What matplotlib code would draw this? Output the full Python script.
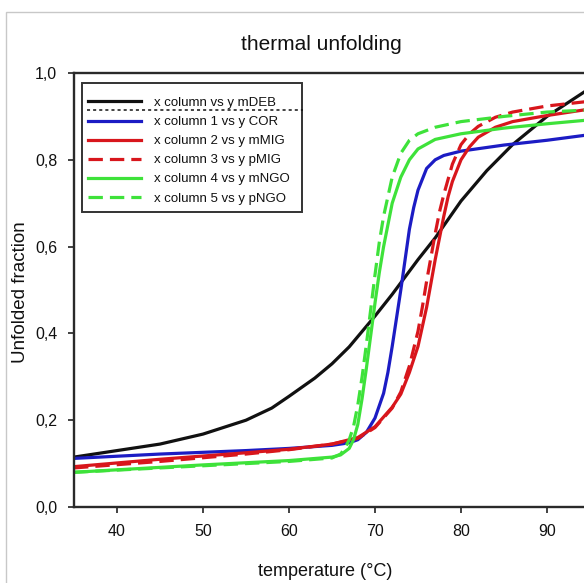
import matplotlib.pyplot as plt
from matplotlib.patches import Rectangle

plt.rcParams['font.family'] = ['Liberation Sans', 'DejaVu Sans']

# temperatures (°C) and unfolded fractions
t_deb = [35, 40, 45, 50, 55, 58, 60, 63, 65, 67, 70, 72, 75, 77, 80, 83, 86, 90, 95]
y_deb = [0.115, 0.13, 0.145, 0.168, 0.2, 0.228, 0.255, 0.297, 0.33, 0.369, 0.44, 0.49, 0.57, 0.62, 0.705, 0.775, 0.835, 0.9, 0.965]

t_cor = [35, 45, 55, 60, 65, 67, 68, 69, 70, 71, 71.5, 72, 72.5, 73, 73.5, 74, 74.5, 75, 76, 77, 78, 80, 85, 90, 95]
y_cor = [0.112, 0.122, 0.13, 0.135, 0.142, 0.148, 0.155, 0.172, 0.205, 0.262, 0.31, 0.37, 0.435, 0.5, 0.57, 0.64, 0.69, 0.73, 0.78, 0.8, 0.81, 0.82, 0.834, 0.845, 0.858]

t_mmig = [35, 45, 55, 60, 65, 68, 70, 72, 73, 74, 75, 76, 76.5, 77, 77.5, 78, 78.5, 79, 80, 81, 82, 84, 86, 90, 95]
y_mmig = [0.093, 0.11, 0.125, 0.133, 0.145, 0.16, 0.185, 0.23, 0.26, 0.31, 0.37, 0.46, 0.515, 0.57, 0.62, 0.67, 0.715, 0.75, 0.8, 0.83, 0.852, 0.875, 0.888, 0.902, 0.917]

t_pmig = [35, 45, 55, 60, 65, 68, 70, 72, 73, 74, 75, 75.5, 76, 76.5, 77, 77.5, 78, 79, 80, 81, 82, 84, 86, 90, 95]
y_pmig = [0.09, 0.105, 0.122, 0.132, 0.145, 0.158, 0.183, 0.228, 0.265, 0.325, 0.405, 0.46, 0.52, 0.575, 0.63, 0.68, 0.72, 0.79, 0.835, 0.86, 0.877, 0.898, 0.91, 0.924, 0.935]

t_mngo = [35, 50, 60, 65, 66, 67, 67.5, 68, 68.5, 69, 69.5, 70, 70.5, 71, 72, 73, 74, 75, 77, 80, 85, 90, 95]
y_mngo = [0.08, 0.097, 0.107, 0.115, 0.12, 0.135, 0.155, 0.19, 0.25, 0.32, 0.395, 0.47, 0.54, 0.6, 0.7, 0.76, 0.8, 0.825, 0.847, 0.86, 0.873, 0.883, 0.892]

t_pngo = [35, 50, 60, 65, 66, 66.5, 67, 67.5, 68, 68.5, 69, 69.5, 70, 70.5, 71, 72, 73, 74, 75, 77, 80, 85, 90, 95]
y_pngo = [0.08, 0.095, 0.105, 0.113, 0.122, 0.135, 0.155, 0.185, 0.235, 0.3, 0.375, 0.455, 0.535, 0.61, 0.67, 0.76, 0.815, 0.845, 0.86, 0.875, 0.888, 0.9, 0.91, 0.915]

labels = ['x column vs y mDEB', 'x column 1 vs y COR', 'x column 2 vs y mMIG',
          'x column 3 vs y pMIG', 'x column 4 vs y mNGO', 'x column 5 vs y pNGO']

x_ticks = [40, 50, 60, 70, 80, 90]
y_ticks = [0.0, 0.2, 0.4, 0.6, 0.8, 1.0]
y_tick_labels = ['0,0', '0,2', '0,4', '0,6', '0,8', '1,0']

BLACK = '#111111'
BLUE = '#1c1cc4'
RED = '#d8161c'
GREEN = '#3ee23a'
TXT = '#111111'

fig = plt.figure(figsize=(5.84, 5.83), dpi=100)
ax = fig.add_axes([74/584, 76/583, 559/584, 434/583])

lw = 2.3
dash = (0, (4.5, 2.2))
ax.plot(t_deb, y_deb, color=BLACK, lw=lw, label=labels[0])
ax.plot(t_cor, y_cor, color=BLUE, lw=lw, label=labels[1])
ax.plot(t_mmig, y_mmig, color=RED, lw=lw, label=labels[2])
ax.plot(t_pmig, y_pmig, color=RED, lw=lw, ls=dash, label=labels[3])
ax.plot(t_mngo, y_mngo, color=GREEN, lw=lw, label=labels[4])
ax.plot(t_pngo, y_pngo, color=GREEN, lw=lw, ls=dash, label=labels[5])

ax.set_xlim(35, 100)
ax.set_ylim(0, 1)
ax.set_xticks(x_ticks)
ax.set_yticks(y_ticks)
ax.set_yticklabels(y_tick_labels)
ax.tick_params(direction='out', length=4, width=1.3, colors='#333333',
               labelsize=11.5, labelcolor=TXT, pad=8)
for side in ['left', 'bottom', 'top']:
    ax.spines[side].set_linewidth(1.7)
    ax.spines[side].set_color('#2a2a2a')
ax.spines['right'].set_visible(False)

# legend entries without their own frame, box drawn separately
leg = ax.legend(loc='upper left', bbox_to_anchor=(0.025, 0.945), fontsize=9.5,
                handlelength=4.0, labelspacing=0.52, borderpad=0.0,
                borderaxespad=0.0, handletextpad=1.0, frameon=False)
for txt in leg.get_texts():
    txt.set_color(TXT)
ax.add_patch(Rectangle((0.0143, 0.68), 0.394, 0.297, transform=ax.transAxes,
                       facecolor='white', edgecolor='#333333', lw=1.4,
                       zorder=4.5))

# stray dotted line across the legend
ax.plot([0.024, 0.41], [0.915, 0.915], transform=ax.transAxes, color=BLACK,
        lw=1.1, ls=(0, (2, 2)), zorder=6)

fig.text(321/584, 1 - 45/583, 'thermal unfolding', ha='center', va='center',
         fontsize=15, color=TXT)
fig.text(325/584, 1 - 572/583, 'temperature (°C)', ha='center', va='center',
         fontsize=13, color=TXT)
fig.text(21/584, 1 - 292/583, 'Unfolded fraction', ha='center', va='center',
         rotation=90, fontsize=13.5, color=TXT)

# light page frame
fig.add_artist(Rectangle((6/584, -0.1), 1.2, 1.1 - 12/583,
                         transform=fig.transFigure, fill=False,
                         edgecolor='#c8c8c8', lw=1.0))

fig.savefig('out.png', dpi=100)
